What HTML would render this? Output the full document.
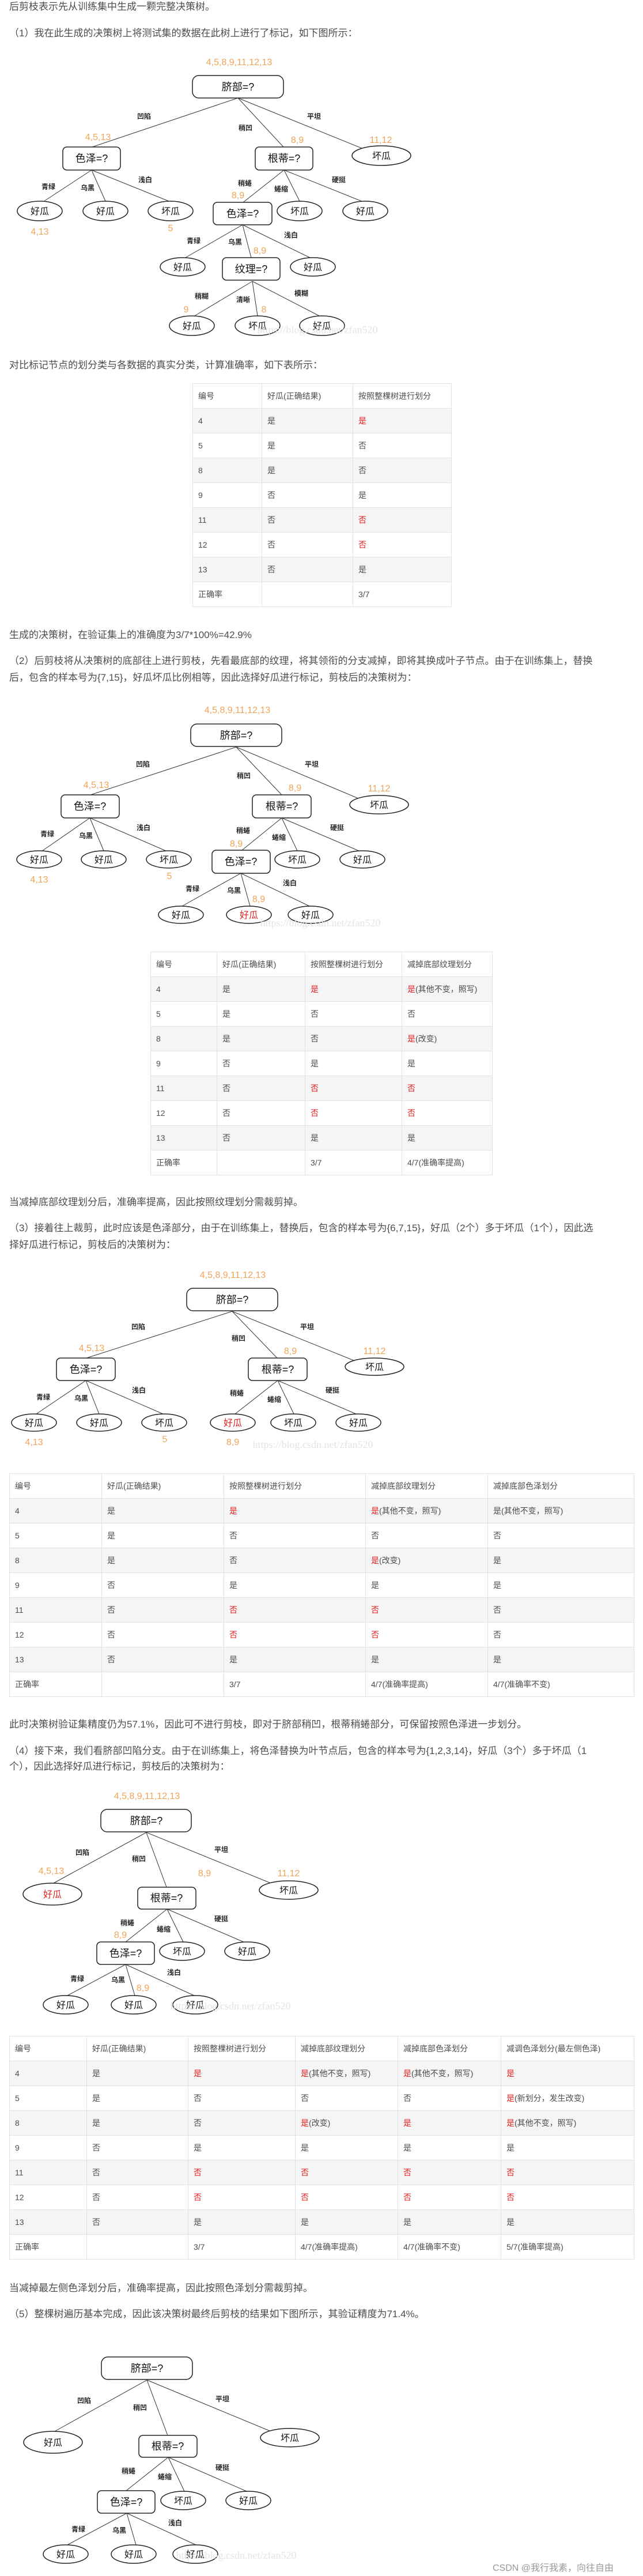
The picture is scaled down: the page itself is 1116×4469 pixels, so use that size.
<!DOCTYPE html>
<html><head><meta charset="utf-8">
<style>
html,body{margin:0;padding:0;background:#fff;}
body{width:1116px;height:4469px;position:relative;overflow:hidden;font-family:"Liberation Sans","Noto Sans CJK SC",sans-serif;color:#4d4d4d;}
.p{position:absolute;left:16px;font-size:17px;line-height:24px;white-space:nowrap;}
svg{position:absolute;left:0;top:0;}
.n{font-size:18px;fill:#111;text-anchor:middle;font-family:"Liberation Sans","Noto Sans CJK SC",sans-serif;}
.l{font-size:16px;fill:#111;text-anchor:middle;font-family:"Liberation Sans","Noto Sans CJK SC",sans-serif;}
.r{fill:#e02020;}
.e{font-size:12px;fill:#222;text-anchor:middle;font-weight:bold;font-family:"Liberation Sans","Noto Sans CJK SC",sans-serif;}
.o{font-size:16px;fill:#f0a458;text-anchor:middle;font-family:"Liberation Sans","Noto Sans CJK SC",sans-serif;}
.w{font-size:18px;fill:#e4e4e4;text-anchor:middle;font-family:"Liberation Serif",serif;}
rect,ellipse{fill:#fff;stroke:#222;stroke-width:1.5;}
line{stroke:#333;stroke-width:1;}
table{position:absolute;border-collapse:collapse;table-layout:fixed;font-size:14px;color:#4d4d4d;}
td{border:1px solid #e2e2e2;height:43px;padding:0 0 0 9px;box-sizing:border-box;white-space:nowrap;overflow:hidden;}
tr.s td{background:#f5f5f5;}
.red{color:#e02020;}
</style></head><body>

<div class="p" style="top:0px">后剪枝表示先从训练集中生成一颗完整决策树。</div>
<div class="p" style="top:46px">（1）我在此生成的决策树上将测试集的数据在此树上进行了标记，如下图所示：</div>
<div class="p" style="top:622px">对比标记节点的划分类与各数据的真实分类，计算准确率，如下表所示：</div>
<div class="p" style="top:1090px">生成的决策树，在验证集上的准确度为3/7*100%=42.9%</div>
<div class="p" style="top:1135px">（2）后剪枝将从决策树的底部往上进行剪枝，先看最底部的纹理，将其领衔的分支减掉，即将其换成叶子节点。由于在训练集上，替换</div>
<div class="p" style="top:1164px">后，包含的样本号为{7,15}，好瓜坏瓜比例相等，因此选择好瓜进行标记，剪枝后的决策树为：</div>
<div class="p" style="top:2074px">当减掉底部纹理划分后，准确率提高，因此按照纹理划分需裁剪掉。</div>
<div class="p" style="top:2119px">（3）接着往上裁剪，此时应该是色泽部分，由于在训练集上，替换后，包含的样本号为{6,7,15}，好瓜（2个）多于坏瓜（1个），因此选</div>
<div class="p" style="top:2148px">择好瓜进行标记，剪枝后的决策树为：</div>
<div class="p" style="top:2980px">此时决策树验证集精度仍为57.1%，因此可不进行剪枝，即对于脐部稍凹，根蒂稍蜷部分，可保留按照色泽进一步划分。</div>
<div class="p" style="top:3026px">（4）接下来，我们看脐部凹陷分支。由于在训练集上，将色泽替换为叶节点后，包含的样本号为{1,2,3,14}，好瓜（3个）多于坏瓜（1</div>
<div class="p" style="top:3053px">个），因此选择好瓜进行标记，剪枝后的决策树为：</div>
<div class="p" style="top:3958px">当减掉最左侧色泽划分后，准确率提高，因此按照色泽划分需裁剪掉。</div>
<div class="p" style="top:4003px">（5）整棵树遍历基本完成，因此该决策树最终后剪枝的结果如下图所示，其验证精度为71.4%。</div>
<div class="p" style="top:4444px;left:855px;font-size:16px;color:#999">CSDN @我行我素，向往自由</div>

<table style="left:334px;top:665px;width:449px">
<colgroup><col style="width:120px"><col style="width:158px"><col style="width:171px"></colgroup>
<tr><td>编号</td><td>好瓜(正确结果)</td><td>按照整棵树进行划分</td></tr>
<tr class="s"><td>4</td><td>是</td><td class="red">是</td></tr>
<tr><td>5</td><td>是</td><td>否</td></tr>
<tr class="s"><td>8</td><td>是</td><td>否</td></tr>
<tr><td>9</td><td>否</td><td>是</td></tr>
<tr class="s"><td>11</td><td>否</td><td class="red">否</td></tr>
<tr><td>12</td><td>否</td><td class="red">否</td></tr>
<tr class="s"><td>13</td><td>否</td><td>是</td></tr>
<tr><td>正确率</td><td></td><td>3/7</td></tr>
</table>

<table style="left:261px;top:1651px;width:593px">
<colgroup><col style="width:115px"><col style="width:153px"><col style="width:168px"><col style="width:157px"></colgroup>
<tr><td>编号</td><td>好瓜(正确结果)</td><td>按照整棵树进行划分</td><td>减掉底部纹理划分</td></tr>
<tr class="s"><td>4</td><td>是</td><td class="red">是</td><td><span class="red">是</span>(其他不变，照写)</td></tr>
<tr><td>5</td><td>是</td><td>否</td><td>否</td></tr>
<tr class="s"><td>8</td><td>是</td><td>否</td><td><span class="red">是</span>(改变)</td></tr>
<tr><td>9</td><td>否</td><td>是</td><td>是</td></tr>
<tr class="s"><td>11</td><td>否</td><td class="red">否</td><td class="red">否</td></tr>
<tr><td>12</td><td>否</td><td class="red">否</td><td class="red">否</td></tr>
<tr class="s"><td>13</td><td>否</td><td>是</td><td>是</td></tr>
<tr><td>正确率</td><td></td><td>3/7</td><td>4/7(准确率提高)</td></tr>
</table>

<table style="left:16px;top:2556px;width:1084px">
<colgroup><col style="width:160px"><col style="width:212px"><col style="width:246px"><col style="width:212px"><col style="width:254px"></colgroup>
<tr><td>编号</td><td>好瓜(正确结果)</td><td>按照整棵树进行划分</td><td>减掉底部纹理划分</td><td>减掉底部色泽划分</td></tr>
<tr class="s"><td>4</td><td>是</td><td class="red">是</td><td><span class="red">是</span>(其他不变，照写)</td><td>是(其他不变，照写)</td></tr>
<tr><td>5</td><td>是</td><td>否</td><td>否</td><td>否</td></tr>
<tr class="s"><td>8</td><td>是</td><td>否</td><td><span class="red">是</span>(改变)</td><td>是</td></tr>
<tr><td>9</td><td>否</td><td>是</td><td>是</td><td>是</td></tr>
<tr class="s"><td>11</td><td>否</td><td class="red">否</td><td class="red">否</td><td>否</td></tr>
<tr><td>12</td><td>否</td><td class="red">否</td><td class="red">否</td><td>否</td></tr>
<tr class="s"><td>13</td><td>否</td><td>是</td><td>是</td><td>是</td></tr>
<tr><td>正确率</td><td></td><td>3/7</td><td>4/7(准确率提高)</td><td>4/7(准确率不变)</td></tr>
</table>

<table style="left:16px;top:3532px;width:1084px">
<colgroup><col style="width:134px"><col style="width:176px"><col style="width:186px"><col style="width:178px"><col style="width:179px"><col style="width:231px"></colgroup>
<tr><td>编号</td><td>好瓜(正确结果)</td><td>按照整棵树进行划分</td><td>减掉底部纹理划分</td><td>减掉底部色泽划分</td><td>减调色泽划分(最左侧色泽)</td></tr>
<tr class="s"><td>4</td><td>是</td><td class="red">是</td><td><span class="red">是</span>(其他不变，照写)</td><td><span class="red">是</span>(其他不变，照写)</td><td class="red">是</td></tr>
<tr><td>5</td><td>是</td><td>否</td><td>否</td><td>否</td><td><span class="red">是</span>(新划分，发生改变)</td></tr>
<tr class="s"><td>8</td><td>是</td><td>否</td><td><span class="red">是</span>(改变)</td><td class="red">是</td><td><span class="red">是</span>(其他不变，照写)</td></tr>
<tr><td>9</td><td>否</td><td>是</td><td>是</td><td>是</td><td>是</td></tr>
<tr class="s"><td>11</td><td>否</td><td class="red">否</td><td class="red">否</td><td class="red">否</td><td class="red">否</td></tr>
<tr><td>12</td><td>否</td><td class="red">否</td><td class="red">否</td><td class="red">否</td><td class="red">否</td></tr>
<tr class="s"><td>13</td><td>否</td><td>是</td><td>是</td><td>是</td><td>是</td></tr>
<tr><td>正确率</td><td></td><td>3/7</td><td>4/7(准确率提高)</td><td>4/7(准确率不变)</td><td>5/7(准确率提高)</td></tr>
</table>

<svg width="1116" height="4469" viewBox="0 0 1116 4469">
<g>
<line x1="413" y1="170" x2="160" y2="255"/><line x1="413" y1="170" x2="492" y2="255"/><line x1="413" y1="170" x2="630" y2="258"/>
<line x1="159" y1="295" x2="75" y2="350"/><line x1="159" y1="295" x2="183" y2="349"/><line x1="159" y1="295" x2="293" y2="349"/>
<line x1="493" y1="295" x2="422" y2="351"/><line x1="493" y1="295" x2="520" y2="349"/><line x1="493" y1="295" x2="630" y2="350"/>
<line x1="421" y1="390" x2="320" y2="448"/><line x1="421" y1="390" x2="436" y2="447"/><line x1="421" y1="390" x2="540" y2="448"/>
<line x1="438" y1="488" x2="336" y2="549"/><line x1="438" y1="488" x2="447" y2="548"/><line x1="438" y1="488" x2="556" y2="549"/>
<rect x="334" y="131" width="158" height="39" rx="11"/><text class="n" x="413" y="157">脐部=?</text>
<rect x="109" y="255" width="100" height="40" rx="7"/><text class="n" x="159" y="281">色泽=?</text>
<rect x="443" y="255" width="100" height="40" rx="7"/><text class="n" x="493" y="281">根蒂=?</text>
<ellipse cx="662" cy="270" rx="51" ry="17"/><text class="l" x="662" y="276">坏瓜</text>
<ellipse cx="69" cy="366" rx="39" ry="17"/><text class="l" x="69" y="372">好瓜</text>
<ellipse cx="183" cy="366" rx="39" ry="17"/><text class="l" x="183" y="372">好瓜</text>
<ellipse cx="296" cy="366" rx="39" ry="17"/><text class="l" x="296" y="372">坏瓜</text>
<rect x="370" y="351" width="102" height="39" rx="7"/><text class="n" x="421" y="377">色泽=?</text>
<ellipse cx="520" cy="366" rx="39" ry="17"/><text class="l" x="520" y="372">坏瓜</text>
<ellipse cx="634" cy="366" rx="39" ry="17"/><text class="l" x="634" y="372">好瓜</text>
<ellipse cx="317" cy="463" rx="39" ry="16"/><text class="l" x="317" y="469">好瓜</text>
<rect x="386" y="447" width="100" height="39" rx="7"/><text class="n" x="436" y="473">纹理=?</text>
<ellipse cx="543" cy="463" rx="39" ry="16"/><text class="l" x="543" y="469">好瓜</text>
<ellipse cx="333" cy="565" rx="39" ry="17"/><text class="l" x="333" y="571">好瓜</text>
<ellipse cx="447" cy="565" rx="39" ry="17"/><text class="l" x="447" y="571">坏瓜</text>
<ellipse cx="559" cy="565" rx="39" ry="17"/><text class="l" x="559" y="571">好瓜</text>
<text class="o" x="415" y="113">4,5,8,9,11,12,13</text>
<text class="e" x="250" y="206">凹陷</text><text class="e" x="426" y="226">稍凹</text><text class="e" x="545" y="206">平坦</text>
<text class="o" x="170" y="243">4,5,13</text><text class="o" x="516" y="248">8,9</text><text class="o" x="661" y="248">11,12</text>
<text class="e" x="84" y="328">青绿</text><text class="e" x="152" y="330">乌黑</text><text class="e" x="252" y="316">浅白</text>
<text class="e" x="425" y="322">稍蜷</text><text class="e" x="488" y="332">蜷缩</text><text class="e" x="588" y="316">硬挺</text>
<text class="o" x="413" y="344">8,9</text>
<text class="o" x="69" y="407">4,13</text><text class="o" x="296" y="401">5</text>
<text class="e" x="336" y="422">青绿</text><text class="e" x="408" y="424">乌黑</text><text class="e" x="505" y="412">浅白</text>
<text class="o" x="451" y="440">8,9</text>
<text class="e" x="350" y="518">稍糊</text><text class="e" x="422" y="524">清晰</text><text class="e" x="523" y="513">模糊</text>
<text class="o" x="323" y="542">9</text><text class="o" x="458" y="542">8</text>
<text class="w" x="551" y="578">https://blog.csdn.net/zfan520</text>
</g>

<g>
<line x1="410" y1="1296" x2="157" y2="1379"/><line x1="410" y1="1296" x2="489" y2="1379"/><line x1="410" y1="1296" x2="624" y2="1386"/>
<line x1="156" y1="1419" x2="72" y2="1477"/><line x1="156" y1="1419" x2="180" y2="1476"/><line x1="156" y1="1419" x2="290" y2="1477"/>
<line x1="489" y1="1419" x2="420" y2="1475"/><line x1="489" y1="1419" x2="516" y2="1476"/><line x1="489" y1="1419" x2="625" y2="1477"/>
<line x1="418" y1="1515" x2="316" y2="1572"/><line x1="418" y1="1515" x2="434" y2="1572"/><line x1="418" y1="1515" x2="537" y2="1572"/>
<rect x="331" y="1256" width="158" height="39" rx="11"/><text class="n" x="410" y="1282">脐部=?</text>
<rect x="106" y="1379" width="101" height="40" rx="7"/><text class="n" x="156" y="1405">色泽=?</text>
<rect x="438" y="1379" width="102" height="40" rx="7"/><text class="n" x="489" y="1405">根蒂=?</text>
<ellipse cx="658" cy="1396" rx="51" ry="16"/><text class="l" x="658" y="1402">坏瓜</text>
<ellipse cx="68" cy="1491" rx="39" ry="15"/><text class="l" x="68" y="1497">好瓜</text>
<ellipse cx="180" cy="1491" rx="39" ry="15"/><text class="l" x="180" y="1497">好瓜</text>
<ellipse cx="293" cy="1491" rx="39" ry="15"/><text class="l" x="293" y="1497">坏瓜</text>
<rect x="368" y="1475" width="101" height="40" rx="7"/><text class="n" x="418" y="1501">色泽=?</text>
<ellipse cx="516" cy="1491" rx="39" ry="15"/><text class="l" x="516" y="1497">坏瓜</text>
<ellipse cx="629" cy="1491" rx="39" ry="15"/><text class="l" x="629" y="1497">好瓜</text>
<ellipse cx="314" cy="1587" rx="39" ry="15"/><text class="l" x="314" y="1593">好瓜</text>
<ellipse cx="432" cy="1587" rx="39" ry="15"/><text class="l r" x="432" y="1593">好瓜</text>
<ellipse cx="539" cy="1587" rx="39" ry="15"/><text class="l" x="539" y="1593">好瓜</text>
<text class="o" x="412" y="1237">4,5,8,9,11,12,13</text>
<text class="e" x="248" y="1330">凹陷</text><text class="e" x="423" y="1350">稍凹</text><text class="e" x="541" y="1330">平坦</text>
<text class="o" x="167" y="1367">4,5,13</text><text class="o" x="512" y="1372">8,9</text><text class="o" x="658" y="1373">11,12</text>
<text class="e" x="82" y="1451">青绿</text><text class="e" x="149" y="1454">乌黑</text><text class="e" x="249" y="1440">浅白</text>
<text class="e" x="422" y="1445">稍蜷</text><text class="e" x="484" y="1457">蜷缩</text><text class="e" x="585" y="1440">硬挺</text>
<text class="o" x="410" y="1469">8,9</text>
<text class="o" x="68" y="1531">4,13</text><text class="o" x="294" y="1525">5</text>
<text class="e" x="334" y="1546">青绿</text><text class="e" x="406" y="1549">乌黑</text><text class="e" x="503" y="1536">浅白</text>
<text class="o" x="449" y="1565">8,9</text>
<text class="w" x="556" y="1607">https://blog.csdn.net/zfan520</text>
</g>

<g>
<line x1="403" y1="2275" x2="150" y2="2356"/><line x1="403" y1="2275" x2="481" y2="2356"/><line x1="403" y1="2275" x2="616" y2="2361"/>
<line x1="149" y1="2395" x2="63" y2="2453"/><line x1="149" y1="2395" x2="172" y2="2453"/><line x1="149" y1="2395" x2="283" y2="2453"/>
<line x1="482" y1="2395" x2="408" y2="2453"/><line x1="482" y1="2395" x2="510" y2="2453"/><line x1="482" y1="2395" x2="618" y2="2453"/>
<rect x="324" y="2235" width="158" height="39" rx="11"/><text class="n" x="403" y="2261">脐部=?</text>
<rect x="98" y="2356" width="102" height="39" rx="7"/><text class="n" x="149" y="2382">色泽=?</text>
<rect x="431" y="2356" width="102" height="39" rx="7"/><text class="n" x="482" y="2382">根蒂=?</text>
<ellipse cx="650" cy="2371" rx="51" ry="15"/><text class="l" x="650" y="2377">坏瓜</text>
<ellipse cx="59" cy="2468" rx="39" ry="15"/><text class="l" x="59" y="2474">好瓜</text>
<ellipse cx="172" cy="2468" rx="39" ry="15"/><text class="l" x="172" y="2474">好瓜</text>
<ellipse cx="285" cy="2468" rx="39" ry="15"/><text class="l" x="285" y="2474">坏瓜</text>
<ellipse cx="404" cy="2468" rx="39" ry="15"/><text class="l r" x="404" y="2474">好瓜</text>
<ellipse cx="509" cy="2468" rx="39" ry="15"/><text class="l" x="509" y="2474">坏瓜</text>
<ellipse cx="622" cy="2468" rx="39" ry="15"/><text class="l" x="622" y="2474">好瓜</text>
<text class="o" x="404" y="2217">4,5,8,9,11,12,13</text>
<text class="e" x="240" y="2306">凹陷</text><text class="e" x="414" y="2326">稍凹</text><text class="e" x="533" y="2306">平坦</text>
<text class="o" x="159" y="2344">4,5,13</text><text class="o" x="504" y="2349">8,9</text><text class="o" x="650" y="2349">11,12</text>
<text class="e" x="75" y="2428">青绿</text><text class="e" x="141" y="2430">乌黑</text><text class="e" x="241" y="2416">浅白</text>
<text class="e" x="411" y="2421">稍蜷</text><text class="e" x="476" y="2432">蜷缩</text><text class="e" x="577" y="2416">硬挺</text>
<text class="o" x="59" y="2507">4,13</text><text class="o" x="286" y="2502">5</text><text class="o" x="404" y="2507">8,9</text>
<text class="w" x="543" y="2512">https://blog.csdn.net/zfan520</text>
</g>

<g>
<line x1="254" y1="3179" x2="93" y2="3267"/><line x1="254" y1="3179" x2="289" y2="3274"/><line x1="254" y1="3179" x2="470" y2="3267"/>
<line x1="290" y1="3312" x2="218" y2="3369"/><line x1="290" y1="3312" x2="318" y2="3369"/><line x1="290" y1="3312" x2="425" y2="3370"/>
<line x1="218" y1="3408" x2="117" y2="3462"/><line x1="218" y1="3408" x2="234" y2="3462"/><line x1="218" y1="3408" x2="337" y2="3462"/>
<rect x="175" y="3139" width="157" height="39" rx="11"/><text class="n" x="254" y="3165">脐部=?</text>
<ellipse cx="91" cy="3286" rx="51" ry="19"/><text class="l r" x="91" y="3292">好瓜</text>
<rect x="239" y="3274" width="101" height="38" rx="7"/><text class="n" x="289" y="3299">根蒂=?</text>
<ellipse cx="501" cy="3279" rx="51" ry="16"/><text class="l" x="501" y="3285">坏瓜</text>
<rect x="168" y="3369" width="100" height="39" rx="7"/><text class="n" x="218" y="3395">色泽=?</text>
<ellipse cx="316" cy="3385" rx="39" ry="16"/><text class="l" x="316" y="3391">坏瓜</text>
<ellipse cx="429" cy="3385" rx="39" ry="16"/><text class="l" x="429" y="3391">好瓜</text>
<ellipse cx="114" cy="3478" rx="39" ry="16"/><text class="l" x="114" y="3484">好瓜</text>
<ellipse cx="232" cy="3478" rx="39" ry="16"/><text class="l" x="232" y="3484">好瓜</text>
<ellipse cx="339" cy="3478" rx="39" ry="16"/><text class="l" x="339" y="3484">好瓜</text>
<text class="o" x="255" y="3121">4,5,8,9,11,12,13</text>
<text class="e" x="143" y="3218">凹陷</text><text class="e" x="241" y="3229">稍凹</text><text class="e" x="384" y="3213">平坦</text>
<text class="o" x="89" y="3251">4,5,13</text><text class="o" x="355" y="3255">8,9</text><text class="o" x="501" y="3255">11,12</text>
<text class="e" x="221" y="3340">稍蜷</text><text class="o" x="209" y="3362">8,9</text><text class="e" x="284" y="3351">蜷缩</text><text class="e" x="384" y="3333">硬挺</text>
<text class="e" x="134" y="3437">青绿</text><text class="e" x="205" y="3439">乌黑</text><text class="e" x="302" y="3426">浅白</text>
<text class="o" x="248" y="3454">8,9</text>
<text class="w" x="400" y="3486">https://blog.csdn.net/zfan520</text>
</g>

<g>
<line x1="255" y1="4129" x2="95" y2="4218"/><line x1="255" y1="4129" x2="291" y2="4225"/><line x1="255" y1="4129" x2="470" y2="4218"/>
<line x1="292" y1="4263" x2="219" y2="4321"/><line x1="292" y1="4263" x2="320" y2="4322"/><line x1="292" y1="4263" x2="428" y2="4322"/>
<line x1="220" y1="4360" x2="117" y2="4415"/><line x1="220" y1="4360" x2="236" y2="4415"/><line x1="220" y1="4360" x2="340" y2="4415"/>
<rect x="176" y="4089" width="158" height="39" rx="11"/><text class="n" x="255" y="4115">脐部=?</text>
<ellipse cx="92" cy="4237" rx="51" ry="19"/><text class="l" x="92" y="4243">好瓜</text>
<rect x="241" y="4225" width="101" height="38" rx="7"/><text class="n" x="291" y="4250">根蒂=?</text>
<ellipse cx="503" cy="4229" rx="51" ry="16"/><text class="l" x="503" y="4235">坏瓜</text>
<rect x="169" y="4321" width="100" height="39" rx="7"/><text class="n" x="219" y="4347">色泽=?</text>
<ellipse cx="318" cy="4338" rx="39" ry="16"/><text class="l" x="318" y="4344">坏瓜</text>
<ellipse cx="431" cy="4338" rx="39" ry="16"/><text class="l" x="431" y="4344">好瓜</text>
<ellipse cx="114" cy="4431" rx="39" ry="16"/><text class="l" x="114" y="4437">好瓜</text>
<ellipse cx="232" cy="4431" rx="39" ry="16"/><text class="l" x="232" y="4437">好瓜</text>
<ellipse cx="339" cy="4431" rx="39" ry="16"/><text class="l" x="339" y="4437">好瓜</text>
<text class="e" x="146" y="4169">凹陷</text><text class="e" x="243" y="4181">稍凹</text><text class="e" x="386" y="4166">平坦</text>
<text class="e" x="223" y="4291">稍蜷</text><text class="e" x="286" y="4301">蜷缩</text><text class="e" x="386" y="4285">硬挺</text>
<text class="e" x="136" y="4392">青绿</text><text class="e" x="207" y="4394">乌黑</text><text class="e" x="304" y="4381">浅白</text>
<text class="w" x="410" y="4439">https://blog.csdn.net/zfan520</text>
</g>
</svg>
</body></html>
